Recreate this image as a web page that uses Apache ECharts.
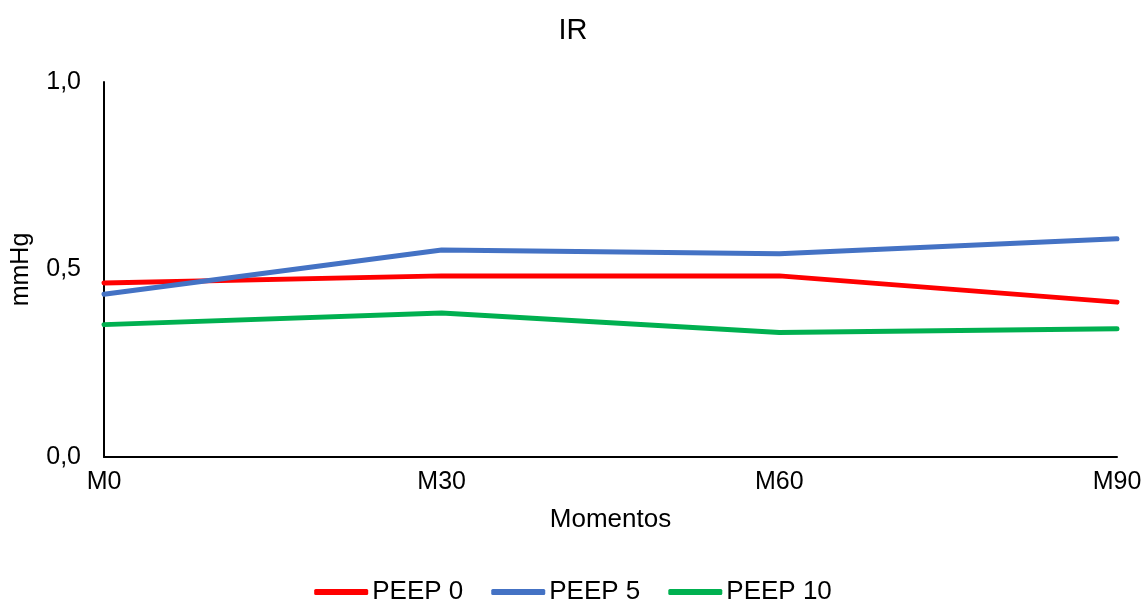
<!DOCTYPE html>
<html><head><meta charset="utf-8">
<script src="https://cdn.jsdelivr.net/npm/echarts@6/dist/echarts.min.js"></script>
<style>html,body{margin:0;padding:0;background:#fff}#c{width:1146px;height:599px}</style>
</head><body><div id="c"></div>
<script>
const categories = ['M0', 'M30', 'M60', 'M90'];
const peep0 = [0.464, 0.483, 0.483, 0.413];
const peep5 = [0.434, 0.552, 0.542, 0.582];
const peep10 = [0.353, 0.384, 0.332, 0.342];
const seriesNames = ['PEEP 0', 'PEEP 5', 'PEEP 10'];
const colors = ['#FF0000', '#4472C4', '#00B050'];
const font = 'Liberation Sans, Arial, sans-serif';
const chart = echarts.init(document.getElementById('c'));
const mk = (name, data, color) => ({
  name, type: 'line', data, showSymbol: false, symbol: 'none',
  lineStyle: { color, width: 5, cap: 'round' }, itemStyle: { color }
});
chart.setOption({
  animation: false,
  title: { text: 'IR', left: 'center', top: 11, textStyle: { fontFamily: font, fontSize: 29, fontWeight: 'normal', color: '#000' } },
  legend: {
    top: 574, left: 'center', itemWidth: 54, itemHeight: 6, itemGap: 28,
    icon: 'roundRect',
    textStyle: { fontFamily: font, fontSize: 26, color: '#000', padding: [0, 0, 0, -1] },
    data: seriesNames
  },
  grid: { left: 104, right: 29, top: 82, bottom: 142, containLabel: false, outerBoundsMode: 'none' },
  xAxis: {
    type: 'category', data: categories, boundaryGap: false,
    name: 'Momentos', nameLocation: 'middle', nameGap: 50,
    nameTextStyle: { fontFamily: font, fontSize: 26, color: '#000' },
    axisLine: { lineStyle: { color: '#000', width: 2 } },
    axisTick: { show: false },
    axisLabel: { fontFamily: font, fontSize: 25, color: '#000', margin: 13 },
    splitLine: { show: false }
  },
  yAxis: {
    type: 'value', min: 0, max: 1, interval: 0.5,
    name: 'mmHg', nameLocation: 'middle', nameGap: 70, nameRotate: 90,
    nameTextStyle: { fontFamily: font, fontSize: 25, color: '#000' },
    axisLine: { show: true, lineStyle: { color: '#000', width: 2 } },
    axisTick: { show: false },
    splitLine: { show: false },
    axisLabel: { fontFamily: font, fontSize: 25, color: '#000', margin: 23,
      formatter: v => v.toFixed(1).replace('.', ',') }
  },
  series: [mk(seriesNames[0], peep0, colors[0]), mk(seriesNames[1], peep5, colors[1]), mk(seriesNames[2], peep10, colors[2])]
});
</script></body></html>
